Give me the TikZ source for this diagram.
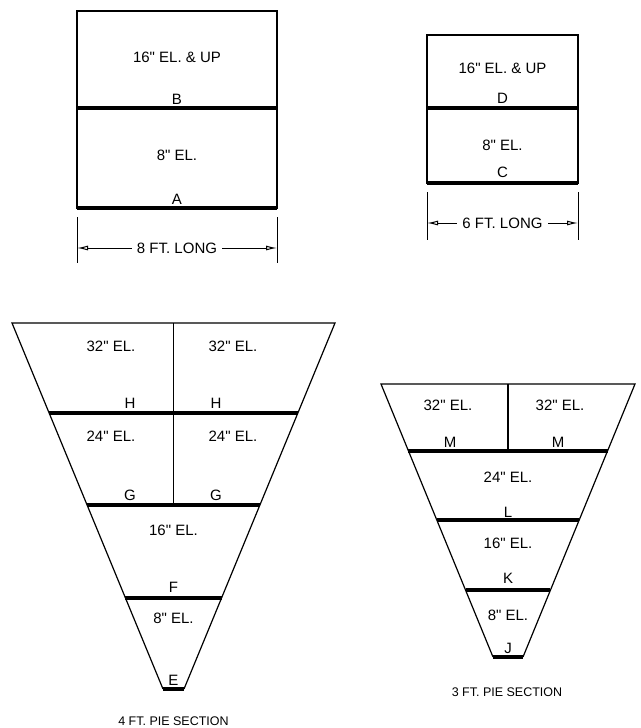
\documentclass[tikz,border=0pt]{standalone}
\usepackage{fontspec}
\setmainfont{Liberation Sans}
\usetikzlibrary{arrows.meta,calc}
\newcommand{\inchmark}{\textquotedbl}
\begin{document}
\begin{tikzpicture}[x=1pt, y=-1pt,
        outline/.style={draw, line width=1.2pt, line join=miter},
        bar/.style={draw, line width=3.4pt},
        lbl/.style={inner sep=0pt, font=\fontsize{15}{17}\selectfont},
        title/.style={inner sep=0pt, font=\fontsize{12.5}{14}\selectfont},
        dimline/.style={draw, line width=1pt},
        dimarrow/.style={draw, line width=1pt, {Latex[open,length=11pt,width=5pt]}-{Latex[open,length=11pt,width=5pt]}}]
    \useasboundingbox (0,0) rectangle (640,728);
    % 8 ft long box
    \coordinate (ltl) at (77,11);
    \coordinate (lbr) at (277,208);
    \draw[outline] (ltl) rectangle (lbr);
    \draw[bar] (77,108) coordinate (lbl) -- (277,108) coordinate (lbrr);
    \draw[bar] (77,208) coordinate (lal) -- (277,208) coordinate (lar);
    \node[lbl] (lup) at (177,57) {16\inchmark{} EL. \& UP};
    \node[lbl] (lb) at (177,99) {B};
    \node[lbl] (leight) at (177,155) {8\inchmark{} EL.};
    \node[lbl] (la) at (177,199) {A};
    \draw[dimline] (77,217) coordinate (ld1) -- (77,263);
    \draw[dimline] (277,217) coordinate (ld2) -- (277,263);
    \coordinate (lda) at (77,248);
    \coordinate (ldb) at (277,248);
    \draw[dimarrow] (lda) -- (ldb) node[midway, fill=white, inner sep=5pt, font=\fontsize{15}{17}\selectfont] (llong) {8 FT. LONG};
    % 6 ft long box
    \coordinate (rtl) at (427,35);
    \coordinate (rbr) at (578,183);
    \draw[outline] (rtl) rectangle (rbr);
    \draw[bar] (427,108) coordinate (rdl) -- (578,108) coordinate (rdr);
    \draw[bar] (427,183) coordinate (rcl) -- (578,183) coordinate (rcr);
    \node[lbl] (rup) at (502.5,68) {16\inchmark{} EL. \& UP};
    \node[lbl] (rd) at (502.5,98) {D};
    \node[lbl] (reight) at (502.5,145) {8\inchmark{} EL.};
    \node[lbl] (rc) at (502.5,172) {C};
    \draw[dimline] (427,192) -- (427,240);
    \draw[dimline] (578,192) -- (578,240);
    \coordinate (rda) at (427,223);
    \coordinate (rdb) at (578,223);
    \draw[dimarrow] (rda) -- (rdb) node[midway, fill=white, inner sep=5pt, font=\fontsize{15}{17}\selectfont] (rlong) {6 FT. LONG};
    % 4 ft pie section
    \coordinate (ftl) at (12,323);
    \coordinate (ftr) at (335,323);
    \coordinate (fbl) at (163,689);
    \coordinate (fbr) at (184,689);
    \draw[outline] (fbl) -- (ftl) -- (ftr) -- (fbr);
    \path (ftl) -- (fbl) coordinate[pos=0.246] (fhl) coordinate[pos=0.497] (fgl) coordinate[pos=0.751] (ffl);
    \path (ftr) -- (fbr) coordinate[pos=0.246] (fhr) coordinate[pos=0.497] (fgr) coordinate[pos=0.751] (ffr);
    \draw[outline] (173.5,323) -- (173.5,505);
    \draw[bar] (fhl) -- (fhr);
    \draw[bar] (fgl) -- (fgr);
    \draw[bar] (ffl) -- (ffr);
    \draw[bar] (fbl) -- (fbr);
    \node[lbl] (f32a) at (111,346) {32\inchmark{} EL.};
    \node[lbl] (f32b) at (233,346) {32\inchmark{} EL.};
    \node[lbl] (fha) at (130,403) {H};
    \node[lbl] (fhb) at (216,403) {H};
    \node[lbl] (f24a) at (111,436) {24\inchmark{} EL.};
    \node[lbl] (f24b) at (233,436) {24\inchmark{} EL.};
    \node[lbl] (fga) at (130,495) {G};
    \node[lbl] (fgb) at (216,495) {G};
    \node[lbl] (f16) at (173.5,530) {16\inchmark{} EL.};
    \node[lbl] (ff) at (173.5,587) {F};
    \node[lbl] (f8) at (173.5,618) {8\inchmark{} EL.};
    \node[lbl] (fe) at (173.5,680) {E};
    \node[title] (ftitle) at (173.5,721) {4 FT. PIE SECTION};
    % 3 ft pie section
    \coordinate (ttl) at (381,384);
    \coordinate (ttr) at (635,384);
    \coordinate (tbl) at (493,657);
    \coordinate (tbr) at (523,657);
    \draw[outline] (tbl) -- (ttl) -- (ttr) -- (tbr);
    \path (ttl) -- (tbl) coordinate[pos=0.245] (tml) coordinate[pos=0.498] (tll) coordinate[pos=0.755] (tkl);
    \path (ttr) -- (tbr) coordinate[pos=0.245] (tmr) coordinate[pos=0.498] (tlr) coordinate[pos=0.755] (tkr);
    \draw[outline] (508,384) -- (508,451);
    \draw[bar] (tml) -- (tmr);
    \draw[bar] (tll) -- (tlr);
    \draw[bar] (tkl) -- (tkr);
    \draw[bar] (tbl) -- (tbr);
    \node[lbl] (t32a) at (448,405) {32\inchmark{} EL.};
    \node[lbl] (t32b) at (560,405) {32\inchmark{} EL.};
    \node[lbl] (tma) at (450,442) {M};
    \node[lbl] (tmb) at (558,442) {M};
    \node[lbl] (t24) at (508,477) {24\inchmark{} EL.};
    \node[lbl] (tl) at (508,512) {L};
    \node[lbl] (t16) at (508,543) {16\inchmark{} EL.};
    \node[lbl] (tk) at (508,578) {K};
    \node[lbl] (t8) at (508,615) {8\inchmark{} EL.};
    \node[lbl] (tj) at (508,648) {J};
    \node[title] (ttitle) at (507,692) {3 FT. PIE SECTION};
\end{tikzpicture}
\end{document}
